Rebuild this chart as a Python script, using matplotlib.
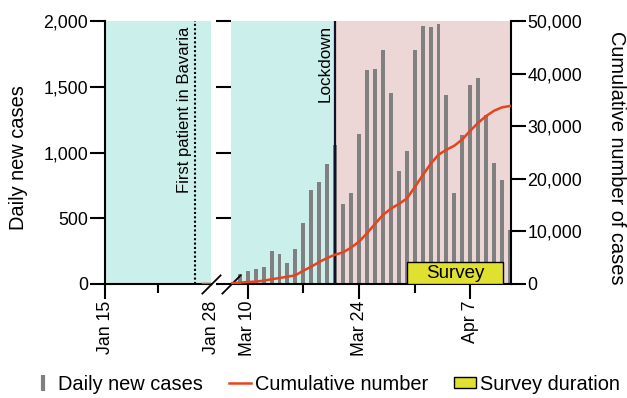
import matplotlib.pyplot as plt
from matplotlib.lines import Line2D
from matplotlib.patches import Patch, Rectangle
from matplotlib.ticker import FuncFormatter

plt.rcParams['font.family'] = ['Liberation Sans', 'DejaVu Sans']

# day of year 2020 (Jan 1 = 1), Mar 9 .. Apr 12
days = list(range(69, 104))
daily_cases = [76, 101, 112, 127, 248, 231, 157, 264, 461, 715, 778, 910, 1057,
               606, 689, 1141, 1625, 1633, 1777, 1455, 859, 1011, 1779, 1962,
               1952, 1975, 1437, 695, 1133, 1513, 1564, 1285, 918, 791, 411]
cum_days = list(range(68, 104))
cumulative = [150, 253, 380, 444, 634, 887, 1141, 1394, 1648, 2535, 3295, 4182,
              4943, 5577, 6020, 6908, 8048, 9633, 11407, 13118, 14322, 15209,
              16223, 18377, 20658, 22813, 24587, 25538, 26298, 27502, 29150,
              30671, 31938, 32952, 33586, 33840]
jan_days = [27, 28, 29]
jan_cumulative = [1, 4, 5]

left_ticks = [15, 28]
left_labels = ['Jan 15', 'Jan 28']
right_ticks = [70, 84, 98]
right_labels = ['Mar 10', 'Mar 24', 'Apr 7']
first_patient = 26
lockdown = 81
survey = (90, 102.1)

cyan = '#cbefea'
pink = '#ecd6d6'
gray = '#808080'
red = '#e8431e'
yellow = '#e0e030'

fig = plt.figure(figsize=(6.27, 3.98), dpi=100)
ax1 = fig.add_axes([105 / 627, 114 / 398, 106 / 627, 263 / 398])
ax2 = fig.add_axes([231 / 627, 114 / 398, 279.7 / 627, 263 / 398])

# left panel (January)
ax1.axvspan(15, 28, color=cyan, lw=0, zorder=0)
ax1.axvline(first_patient, color='black', lw=1.5, dashes=(1, 1.1), zorder=3)
ax1.annotate('First patient in Bavaria', xy=(first_patient, 1), xycoords=('data', 'axes fraction'),
             xytext=(-2, -4), textcoords='offset points', rotation=90,
             ha='right', va='top', fontsize=12)
ax1.set_xlim(15, 28)
ax1.set_ylim(0, 2000)
ax1.set_yticks([0, 500, 1000, 1500, 2000])
ax1.yaxis.set_major_formatter(FuncFormatter(lambda v, p: f'{int(v):,}'))
ax1.set_xticks(left_ticks)
ax1.set_xticklabels(left_labels, rotation=90)
ax1.set_xticks([21.5], minor=True)
ax1.xaxis.get_major_ticks()[1].tick1line.set_visible(False)
ax1.set_ylabel('Daily new cases', fontsize=14.4)
ax1.yaxis.set_label_coords(-0.73, 0.48)

ax1b = ax1.twinx()
ax1b.plot(jan_days, jan_cumulative, color=red, lw=1.8)
ax1b.set_ylim(0, 50000)
ax1b.set_xlim(15, 28)
ax1b.axis('off')

# right panel (March - April)
ax2.axvspan(67.9, lockdown, color=cyan, lw=0, zorder=0)
ax2.axvspan(lockdown, 103.08, color=pink, lw=0, zorder=0)
ax2.bar(days, daily_cases, width=0.5, color=gray, zorder=2)
ax2.axvline(lockdown, color='#11112a', lw=1.6, zorder=3)
ax2.annotate('Lockdown', xy=(lockdown, 1), xycoords=('data', 'axes fraction'),
             xytext=(-2, -3), textcoords='offset points', rotation=90,
             ha='right', va='top', fontsize=12.3)
ax2.add_patch(Rectangle((survey[0], 0), survey[1] - survey[0], 165,
                        facecolor=yellow, edgecolor='black', lw=1, zorder=4))
ax2.text((survey[0] + survey[1]) / 2, 80, 'Survey', ha='center', va='center',
         fontsize=13.5, zorder=5)
ax2.set_xlim(67.9, 103.08)
ax2.set_ylim(0, 2000)
ax2.set_xticks(right_ticks)
ax2.set_xticklabels(right_labels, rotation=90)
ax2.set_xticks([77, 91], minor=True)
ax2.tick_params(axis='y', left=False, labelleft=False)

ax2b = ax2.twinx()
ax2b.plot(cum_days, cumulative, color=red, lw=1.8, zorder=5)
ax2b.set_ylim(0, 50000)
ax2b.set_xlim(67.9, 103.08)
ax2b.set_yticks(range(0, 50001, 10000))
ax2b.yaxis.set_major_formatter(FuncFormatter(lambda v, p: f'{int(v):,}'))
ax2b.set_ylabel('Cumulative number of cases', fontsize=14.4, rotation=270, va='bottom')
ax2b.yaxis.set_label_coords(1.345, 0.48)

for ax in (ax1, ax2, ax2b):
    for s in ax.spines.values():
        s.set_linewidth(1.5)
    ax.spines['top'].set_visible(False)
for ax in (ax1, ax2):
    ax.spines['right'].set_visible(False)
    ax.tick_params(axis='both', which='major', direction='out', length=10.5, width=1.5,
                   labelsize=12.8, pad=1.5)
    ax.tick_params(axis='x', which='minor', direction='out', length=6.5, width=1.5)
ax2.spines['left'].set_visible(False)
ax2b.spines['left'].set_visible(False)
ax2b.spines['bottom'].set_visible(False)
ax2b.tick_params(axis='y', direction='out', length=10.5, width=1.5, labelsize=12.8, pad=1.5)

# axis break marks
for ax, xpos in ((ax1, 1), (ax2, 0)):
    ax.plot([xpos], [0], transform=ax.transAxes, marker=[(-1, -1), (1, 1)],
            markersize=14, color='black', mew=1.3, clip_on=False, zorder=10)

handles = [
    Line2D([], [], color=gray, marker='|', linestyle='none', markersize=11, markeredgewidth=3),
    Line2D([], [], color=red, lw=1.8),
    Patch(facecolor=yellow, edgecolor='black', lw=1),
]
fig.legend(handles, ['Daily new cases', 'Cumulative number', 'Survey duration'],
           loc='center', bbox_to_anchor=(0.52, 0.035), ncol=3, frameon=False,
           fontsize=14.4, handlelength=1.1, handleheight=0.45, handletextpad=0.2,
           columnspacing=1.3, borderaxespad=0, borderpad=0)

fig.savefig('out.png', dpi=100)
